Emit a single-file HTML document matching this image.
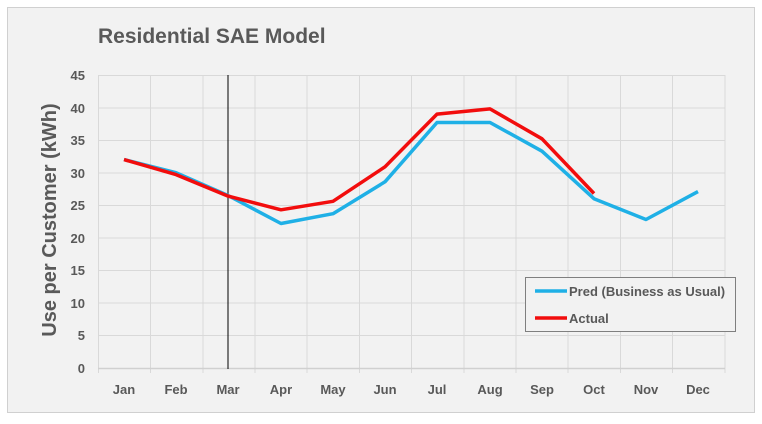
<!DOCTYPE html>
<html><head><meta charset="utf-8"><style>
html,body{margin:0;padding:0;background:#fff;}
svg{display:block;font-family:"Liberation Sans",sans-serif;}
</style></head><body>
<svg width="762" height="424" viewBox="0 0 762 424">
<rect x="7.5" y="7.5" width="747" height="405" fill="#f2f2f2" stroke="#d0d0d0"/>
<text x="98" y="43" font-size="21" font-weight="bold" fill="#595959">Residential SAE Model</text>
<g stroke="#d9d9d9" stroke-width="1">
<line x1="98" y1="75.5" x2="725" y2="75.5"/><line x1="98" y1="108" x2="725" y2="108"/>
<line x1="98" y1="140.5" x2="725" y2="140.5"/><line x1="98" y1="173" x2="725" y2="173"/>
<line x1="98" y1="205.5" x2="725" y2="205.5"/><line x1="98" y1="238" x2="725" y2="238"/>
<line x1="98" y1="270.5" x2="725" y2="270.5"/><line x1="98" y1="303" x2="725" y2="303"/>
<line x1="98" y1="335.5" x2="725" y2="335.5"/>
<line x1="98.5" y1="75" x2="98.5" y2="373"/><line x1="150.5" y1="75" x2="150.5" y2="373"/>
<line x1="203" y1="75" x2="203" y2="373"/><line x1="255" y1="75" x2="255" y2="373"/>
<line x1="307" y1="75" x2="307" y2="373"/><line x1="359.5" y1="75" x2="359.5" y2="373"/>
<line x1="411.5" y1="75" x2="411.5" y2="373"/><line x1="464" y1="75" x2="464" y2="373"/>
<line x1="516" y1="75" x2="516" y2="373"/><line x1="568" y1="75" x2="568" y2="373"/>
<line x1="620.5" y1="75" x2="620.5" y2="373"/><line x1="672.5" y1="75" x2="672.5" y2="373"/>
<line x1="725" y1="75" x2="725" y2="373"/>
</g>
<line x1="98" y1="368.5" x2="725" y2="368.5" stroke="#d0d0d0" stroke-width="1.5"/>
<line x1="228" y1="75" x2="228" y2="369" stroke="#000" stroke-width="1"/>
<g font-size="13" font-weight="bold" fill="#595959" text-anchor="end">
<text x="85" y="80">45</text><text x="85" y="113">40</text><text x="85" y="145">35</text>
<text x="85" y="178">30</text><text x="85" y="210">25</text><text x="85" y="243">20</text>
<text x="85" y="275">15</text><text x="85" y="308">10</text><text x="85" y="340">5</text>
<text x="85" y="373">0</text>
</g>
<g font-size="13" font-weight="bold" fill="#595959" text-anchor="middle">
<text x="124" y="394">Jan</text><text x="176" y="394">Feb</text><text x="228" y="394">Mar</text>
<text x="281" y="394">Apr</text><text x="333" y="394">May</text><text x="385" y="394">Jun</text>
<text x="437" y="394">Jul</text><text x="490" y="394">Aug</text><text x="542" y="394">Sep</text>
<text x="594" y="394">Oct</text><text x="646" y="394">Nov</text><text x="698" y="394">Dec</text>
</g>
<text transform="translate(56,220) rotate(-90)" font-size="20" font-weight="bold" fill="#595959" text-anchor="middle">Use per Customer (kWh)</text>
<polyline fill="none" stroke="#1fb0e6" stroke-width="3.5" stroke-linejoin="round" points="124,159.6 176,172.7 228,195.5 281,223.5 333,213.7 385,181.8 437,122.5 490,122.5 542,151.2 594,198.7 646,219.5 698,191.6"/>
<polyline fill="none" stroke="#f20d0d" stroke-width="3.5" stroke-linejoin="round" points="124,159.6 176,174.6 228,196.1 281,209.8 333,201.3 385,166.8 437,114.1 490,108.9 542,138.8 594,193.5"/>
<rect x="525.5" y="277.5" width="210" height="54" fill="#f2f2f2" stroke="#7f7f7f"/>
<line x1="535" y1="291" x2="567" y2="291" stroke="#1fb0e6" stroke-width="3.5"/>
<line x1="535" y1="318" x2="567" y2="318" stroke="#f20d0d" stroke-width="3.5"/>
<g font-size="13" font-weight="bold" fill="#595959">
<text x="569" y="296">Pred (Business as Usual)</text>
<text x="569" y="323">Actual</text>
</g>
</svg>
</body></html>
